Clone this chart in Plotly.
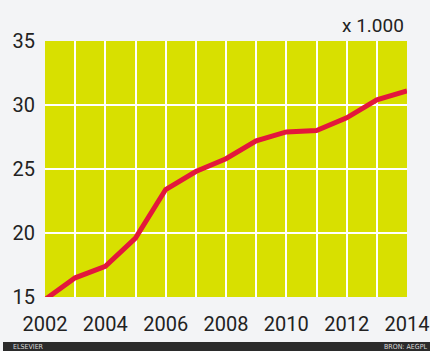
import plotly.graph_objects as go

years = list(range(2002, 2015))
values = [14.8, 16.5, 17.4, 19.6, 23.4, 24.8, 25.8, 27.2, 27.9, 28.0, 29.0, 30.4, 31.1]
x_ticks = [2002, 2004, 2006, 2008, 2010, 2012, 2014]
y_ticks = [15, 20, 25, 30, 35]
unit_label = "x 1.000"
source_label = "BRON: AEGPL"
brand_label = "ELSEVIER"

W, H = 430, 351
L, R, T, B = 45, 23, 41, 54
pw, ph = W - L - R, H - T - B

def px(xp):
    return (xp - L) / pw

def py(yp):
    return (H - B - yp) / ph

fig = go.Figure()
fig.add_trace(go.Scatter(
    x=years, y=values, mode="lines",
    line=dict(color="#e3173c", width=5),
    cliponaxis=False, hoverinfo="skip",
))

axis_font = dict(family="Roboto, DejaVu Sans, sans-serif", size=20, color="#222222")
fig.update_layout(
    width=W, height=H,
    margin=dict(l=L, r=R, t=T, b=B, pad=0, autoexpand=False),
    paper_bgcolor="#f3f4f6",
    plot_bgcolor="#d8e000",
    showlegend=False,
    xaxis=dict(
        range=[2002, 2014], tickvals=x_ticks,
        ticktext=[str(v) for v in x_ticks],
        showgrid=True, gridcolor="#ffffff", gridwidth=2,
        minor=dict(dtick=1, tick0=2002, showgrid=True, gridcolor="#ffffff", gridwidth=2),
        zeroline=False, showline=False, automargin=False,
        tickfont=axis_font, ticks="outside", ticklen=9, tickcolor="rgba(0,0,0,0)",
    ),
    yaxis=dict(
        range=[15, 35], tickvals=y_ticks,
        showgrid=True, gridcolor="#ffffff", gridwidth=2,
        zeroline=False, showline=False, automargin=False,
        tickfont=axis_font, ticks="outside", ticklen=5, tickcolor="rgba(0,0,0,0)",
    ),
)

fig.add_annotation(
    text=unit_label, xref="paper", yref="paper",
    x=px(406), y=py(25), xanchor="right", yanchor="middle",
    showarrow=False, font=dict(family="Roboto, DejaVu Sans, sans-serif", size=19, color="#222222"),
)

# dark footer strip
fig.add_shape(type="rect", xref="paper", yref="paper",
              x0=px(3), x1=px(432), y0=py(342), y1=py(353),
              fillcolor="#2b2b2b", line=dict(width=0), layer="above")
footer_font = dict(family="DejaVu Sans Condensed, DejaVu Sans", size=7, color="#dddddd")
fig.add_annotation(
    text=brand_label, xref="paper", yref="paper",
    x=px(12), y=py(346.5), xanchor="left", yanchor="middle",
    showarrow=False, font=footer_font, borderpad=0,
)
fig.add_annotation(
    text=source_label, xref="paper", yref="paper",
    x=px(428), y=py(346.5), xanchor="right", yanchor="middle",
    showarrow=False, font=footer_font, borderpad=0,
)

fig.write_html("out.html")
